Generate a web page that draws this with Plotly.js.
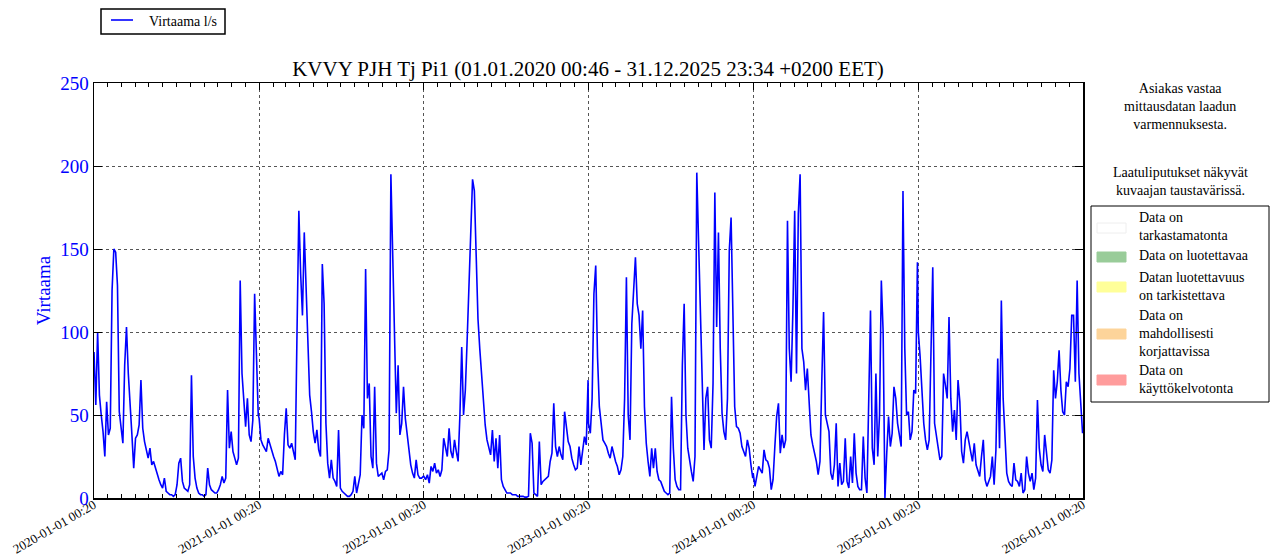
<!DOCTYPE html>
<html>
<head>
<meta charset="utf-8">
<script src="https://cdn.plot.ly/plotly-3.0.1.min.js"></script>
<style>
  html, body { margin: 0; padding: 0; background: #fff; }
  #chart { width: 1271px; height: 559px; }
</style>
</head>
<body>
<div id="chart"></div>
<script>
// flow values (l/s), one reading every 4 days from 1 Jan of each year
const v2020 = [88, 56, 100, 62, 50, 40, 25, 58, 38, 42, 125, 150, 148, 128, 52, 42, 33, 80, 103, 75,
  52, 38, 18, 36, 38, 44, 71, 42, 34, 28, 24, 30, 20, 22, 18, 15, 11, 8, 6, 12,
  4, 3, 2, 2, 1, 2, 8, 21, 24, 10, 6, 5, 4, 8, 74, 25, 12, 6, 3, 2,
  2, 1, 2, 18, 8, 5, 4, 3, 3, 5, 8, 13, 9, 12, 65, 30, 40, 28, 24, 20,
  24, 131, 75, 55, 43, 60, 38, 34, 47, 123, 80, 50];
const v2021 = [48, 35, 32, 30, 28, 36, 32, 28, 25, 22, 18, 13, 16, 14, 38, 54, 32, 30, 33, 27,
  23, 101, 173, 135, 110, 160, 130, 95, 62, 52, 40, 33, 41, 29, 25, 141, 117, 45, 21, 12,
  23, 12, 10, 7, 41, 6, 4, 3, 2, 1, 1, 2, 4, 13, 3, 8, 14, 50, 42, 138,
  60, 69, 25, 18, 67, 21, 13, 14, 15, 11, 16, 17, 29, 195, 150, 90, 51, 80, 38, 45,
  67, 48, 38, 28, 20, 15, 12, 23, 14, 12, 12, 13];
const v2022 = [13, 11, 14, 9, 19, 16, 21, 15, 17, 13, 17, 36, 30, 25, 42, 28, 24, 35, 28, 22,
  50, 91, 50, 65, 95, 130, 151, 192, 185, 150, 108, 90, 75, 58, 44, 35, 30, 26, 41, 22,
  36, 18, 38, 11, 7, 5, 3, 3, 3, 2, 2, 2, 1, 1, 1, 1, 0.5, 0.5, 1, 39,
  33, 3, 2, 1, 34, 8, 10, 11, 12, 13, 22, 27, 57, 31, 25, 31, 26, 23, 52, 43,
  34, 31, 24, 20, 17, 18, 31, 20, 28, 37, 32, 71];
const v2023 = [45, 39, 60, 123, 140, 85, 55, 45, 35, 33, 31, 27, 24, 31, 26, 22, 19, 14, 17, 25,
  60, 133, 50, 35, 105, 125, 145, 117, 110, 90, 113, 55, 33, 22, 13, 30, 18, 30, 16, 11,
  10, 7, 4, 3, 2, 3, 61, 30, 11, 7, 5, 5, 80, 117, 50, 30, 22, 16, 10, 25,
  196, 157, 105, 75, 29, 60, 67, 35, 30, 69, 184, 103, 160, 90, 51, 40, 35, 60, 149, 169,
  120, 55, 43, 42, 39, 31, 28, 25, 35, 30, 20, 12];
const v2024 = [15, 7, 13, 19, 17, 15, 29, 23, 22, 18, 5, 11, 31, 49, 57, 27, 38, 30, 35, 167,
  90, 70, 113, 173, 75, 171, 195, 90, 82, 65, 78, 60, 38, 32, 27, 22, 14, 22, 70, 112,
  50, 45, 40, 15, 11, 20, 45, 7, 21, 8, 10, 36, 10, 6, 25, 9, 39, 15, 7, 5,
  5, 37, 12, 3, 60, 113, 30, 20, 75, 25, 50, 131, 100, 0, 27, 49, 31, 39, 67, 60,
  45, 38, 31, 185, 90, 50, 52, 35, 40, 65, 63, 142];
const v2025 = [100, 85, 64, 45, 35, 29, 35, 100, 139, 45, 38, 30, 23, 25, 75, 68, 60, 109, 60, 40,
  53, 35, 71, 58, 28, 21, 35, 40, 35, 28, 22, 33, 20, 16, 13, 25, 35, 11, 7, 10,
  13, 25, 8, 29, 84, 30, 119, 60, 32, 15, 10, 8, 7, 21, 11, 10, 7, 15, 3, 5,
  25, 15, 10, 15, 5, 12, 59, 30, 20, 16, 38, 25, 17, 15, 23, 77, 60, 70, 89, 65,
  52, 50, 70, 67, 78, 110, 110, 70, 131, 75, 55, 39];

const years = [2020, 2021, 2022, 2023, 2024, 2025];
const yearValues = [v2020, v2021, v2022, v2023, v2024, v2025];
const yearTickVals = ['2020-01-01 00:20', '2021-01-01 00:20', '2022-01-01 00:20',
  '2023-01-01 00:20', '2024-01-01 00:20', '2025-01-01 00:20', '2026-01-01 00:20'];
const yearTickText = yearTickVals.slice();

const flagLabels = ['Data on<br>tarkastamatonta', 'Data on luotettavaa',
  'Datan luotettavuus<br>on tarkistettava', 'Data on<br>mahdollisesti<br>korjattavissa',
  'Data on<br>käyttökelvotonta'];
const flagColors = ['#ffffff', '#99cc99', '#ffff99', '#fdd49a', '#ff9c9c'];

document.addEventListener("DOMContentLoaded", () => {
    build_flow_chart();
});

const build_flow_chart = () => {
    const chart = document.querySelector("#chart");
    const xs = [];
    const ys = [];
    years.forEach((yr, k) => {
        yearValues[k].forEach((v, i) => {
            const d = new Date(Date.UTC(yr, 0, 1 + 4 * i, 0, 46));
            xs.push(d.toISOString().slice(0, 16).replace('T', ' '));
            ys.push(v);
        });
    });

    // plot area in pixels: left 94, right 1083, top 83, bottom 498
    const L = 94, R = 1083, T = 83, B = 498;
    const px = (p) => (p - L) / (R - L);
    const py = (p) => (B - p) / (B - T);
    const serif = 'Liberation Serif, Times New Roman, serif';

    const data = [{
        x: xs,
        y: ys,
        type: 'scatter',
        mode: 'lines',
        name: 'Virtaama l/s',
        line: {color: '#0000ff', width: 1.6}
    }];

    const annotations = [
        {text: 'Asiakas vastaa<br>mittausdatan laadun<br>varmennuksesta.', x: px(1180), y: py(106),
         xanchor: 'center', yanchor: 'middle'},
        {text: 'Laatuliputukset näkyvät<br>kuvaajan taustavärissä.', x: px(1180), y: py(181),
         xanchor: 'center', yanchor: 'middle'},
        // legend of the flow line, drawn by hand
        {text: 'Virtaama l/s', x: px(147), y: py(21), xanchor: 'left', yanchor: 'middle'}
    ];
    const textY = [226, 255, 286, 333, 379];
    const swatchY = [228, 257, 287, 334, 380];
    const shapes = [
        {type: 'rect', xref: 'paper', yref: 'paper', x0: px(1091), x1: px(1269), y0: py(206), y1: py(402),
         line: {color: '#000', width: 1}, fillcolor: 'rgba(0,0,0,0)'},
        {type: 'rect', xref: 'paper', yref: 'paper', x0: px(101), x1: px(225), y0: py(9), y1: py(34),
         line: {color: '#000', width: 1.5}, fillcolor: '#fff'},
        {type: 'line', xref: 'paper', yref: 'paper', x0: px(111), x1: px(133), y0: py(20), y1: py(20),
         line: {color: '#0000ff', width: 1.6}}
    ];
    flagLabels.forEach((lab, i) => {
        annotations.push({text: lab, x: px(1137), y: py(textY[i]), xanchor: 'left', yanchor: 'middle', align: 'left'});
        shapes.push({type: 'rect', xref: 'paper', yref: 'paper', x0: px(1097), x1: px(1126),
            y0: py(swatchY[i] + 5), y1: py(swatchY[i] - 5), fillcolor: flagColors[i],
            line: {color: i === 0 ? '#eeeeee' : flagColors[i], width: 1}});
    });
    annotations.forEach(a => {
        a.xref = 'paper'; a.yref = 'paper'; a.showarrow = false;
        a.font = {family: serif, size: 14, color: '#000'};
    });

    const layout = {
        width: 1271,
        height: 559,
        margin: {l: L, r: 1271 - R, t: T, b: 559 - B},
        paper_bgcolor: '#fff',
        plot_bgcolor: '#fff',
        font: {family: serif, color: '#000'},
        title: {
            text: 'KVVY PJH Tj Pi1 (01.01.2020 00:46 - 31.12.2025 23:34 +0200 EET)',
            font: {family: serif, size: 21, color: '#000'},
            x: px(588), xref: 'paper', xanchor: 'center',
            y: 1 - 69 / 559, yanchor: 'middle'
        },
        showlegend: false,
        xaxis: {
            type: 'date',
            range: ['2020-01-01 00:20', '2026-01-01 00:20'],
            tickvals: yearTickVals,
            ticktext: yearTickText,
            tickangle: -30,
            tickfont: {family: serif, size: 13, color: '#000'},
            ticklabelstandoff: -7,
            ticks: 'inside', ticklen: 7, tickcolor: '#000',
            showline: true, linecolor: '#000', linewidth: 1.5, mirror: 'ticks',
            showgrid: true, gridcolor: '#555', griddash: 'dot', gridwidth: 1,
            minor: {ticks: 'inside', ticklen: 4, tickcolor: '#000', dtick: 'M1', showgrid: false},
            zeroline: false
        },
        yaxis: {
            range: [0, 250],
            tickvals: [0, 50, 100, 150, 200, 250],
            tickfont: {family: serif, size: 19, color: '#0000ff'},
            ticks: 'inside', ticklen: 8, tickcolor: '#000',
            showline: true, linecolor: '#000', linewidth: 1.5, mirror: 'ticks',
            showgrid: true, gridcolor: '#555', griddash: 'dot', gridwidth: 1,
            zeroline: false,
            title: {text: 'Virtaama', font: {family: serif, size: 19, color: '#0000ff'}, standoff: 4}
        },
        annotations: annotations,
        shapes: shapes
    };

    Plotly.newPlot(chart, data, layout, {displayModeBar: false, staticPlot: true});
};
</script>
</body>
</html>
